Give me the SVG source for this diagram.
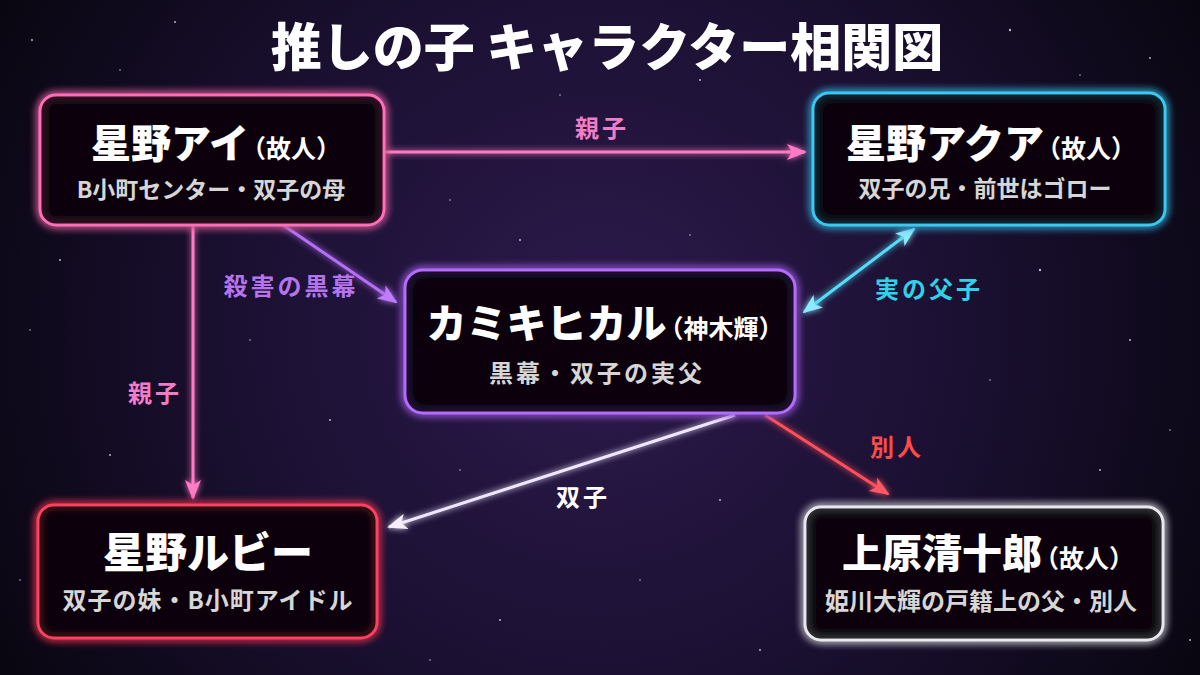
<svg xmlns="http://www.w3.org/2000/svg" width="1200" height="675" viewBox="0 0 1200 675">
<style>
text{font-family:"Noto Sans CJK JP","Noto Sans",sans-serif;font-weight:700;text-anchor:middle}
.title{font-size:51px;font-weight:900;fill:#ffffff}
.name{font-size:40px;font-weight:900;fill:#ffffff}
.paren{font-size:25px;font-weight:700}
.sub{font-size:23px;fill:#d6d6d6}
.box{fill:#08050d;fill-opacity:0.9;stroke-width:3;filter:url(#glow)}
.line{fill:none;stroke-width:3;filter:url(#glowLine)}
.lbl{font-size:24px;letter-spacing:3px}
.star{fill:#ffffff}
</style>
<defs>
<radialGradient id="bg" cx="600" cy="330" r="720" gradientUnits="userSpaceOnUse">
<stop offset="0" stop-color="#2c1a4c"/>
<stop offset="0.5" stop-color="#1b1032"/>
<stop offset="1" stop-color="#07050d"/>
</radialGradient>
<filter id="glow" x="-20%" y="-20%" width="140%" height="140%">
<feGaussianBlur in="SourceGraphic" stdDeviation="4" result="b"/>
<feMerge><feMergeNode in="b"/><feMergeNode in="b"/><feMergeNode in="SourceGraphic"/></feMerge>
</filter>
<filter id="glowLine" filterUnits="userSpaceOnUse" x="0" y="0" width="1200" height="675">
<feGaussianBlur in="SourceGraphic" stdDeviation="3" result="b"/>
<feMerge><feMergeNode in="b"/><feMergeNode in="SourceGraphic"/></feMerge>
</filter>
<marker id="mPink" viewBox="0 0 20 16" refX="18" refY="8" markerWidth="20" markerHeight="16" markerUnits="userSpaceOnUse" orient="auto-start-reverse"><path d="M0,0 L20,8 L0,16 L5,8 z" fill="#ff7ac4"/></marker>
<marker id="mPurple" viewBox="0 0 20 16" refX="18" refY="8" markerWidth="20" markerHeight="16" markerUnits="userSpaceOnUse" orient="auto-start-reverse"><path d="M0,0 L20,8 L0,16 L5,8 z" fill="#c07cff"/></marker>
<marker id="mCyan" viewBox="0 0 20 16" refX="18" refY="8" markerWidth="20" markerHeight="16" markerUnits="userSpaceOnUse" orient="auto-start-reverse"><path d="M0,0 L20,8 L0,16 L5,8 z" fill="#8ee8ff"/></marker>
<marker id="mWhite" viewBox="0 0 20 16" refX="18" refY="8" markerWidth="20" markerHeight="16" markerUnits="userSpaceOnUse" orient="auto-start-reverse"><path d="M0,0 L20,8 L0,16 L5,8 z" fill="#f4eeff"/></marker>
<marker id="mRed" viewBox="0 0 20 16" refX="18" refY="8" markerWidth="20" markerHeight="16" markerUnits="userSpaceOnUse" orient="auto-start-reverse"><path d="M0,0 L20,8 L0,16 L5,8 z" fill="#ff5a64"/></marker>
</defs>
<rect width="1200" height="675" fill="url(#bg)"/>
<g id="stars" opacity="0.7">
<circle class="star" cx="32" cy="40" r="1"/><circle class="star" cx="120" cy="70" r="0.8"/><circle class="star" cx="175" cy="22" r="1"/>
<circle class="star" cx="1010" cy="30" r="1.2"/><circle class="star" cx="1150" cy="58" r="1"/><circle class="star" cx="1080" cy="75" r="0.8"/>
<circle class="star" cx="60" cy="260" r="1"/><circle class="star" cx="30" cy="330" r="0.8"/><circle class="star" cx="110" cy="455" r="1"/>
<circle class="star" cx="250" cy="340" r="0.8"/><circle class="star" cx="330" cy="420" r="1"/><circle class="star" cx="460" cy="470" r="0.8"/>
<circle class="star" cx="520" cy="240" r="1"/><circle class="star" cx="690" cy="235" r="0.8"/><circle class="star" cx="720" cy="500" r="1"/>
<circle class="star" cx="640" cy="580" r="0.8"/><circle class="star" cx="500" cy="620" r="1"/><circle class="star" cx="430" cy="660" r="0.8"/>
<circle class="star" cx="1040" cy="270" r="1.2"/><circle class="star" cx="1130" cy="340" r="1"/><circle class="star" cx="1170" cy="430" r="0.8"/>
<circle class="star" cx="990" cy="380" r="0.8"/><circle class="star" cx="1100" cy="470" r="1"/><circle class="star" cx="760" cy="650" r="1"/>
<circle class="star" cx="20" cy="580" r="0.8"/><circle class="star" cx="1190" cy="640" r="1"/><circle class="star" cx="860" cy="270" r="0.8"/>
<circle class="star" cx="560" cy="95" r="0.8"/><circle class="star" cx="700" cy="80" r="1"/><circle class="star" cx="450" cy="200" r="0.8"/>
</g>
<text class="title" x="607" y="66">推しの子 キャラクター相関図</text>
<g id="connectors">
<path class="line" d="M385,152 L805,152" stroke="#ff7ac4" marker-end="url(#mPink)"/>
<path class="line" d="M193,225 L193,498" stroke="#ff7ac4" marker-end="url(#mPink)"/>
<path class="line" d="M283,225 L396,302" stroke="#b56ef5" marker-end="url(#mPurple)"/>
<path class="line" d="M914,229 L804,312" stroke="#55dcf8" marker-start="url(#mCyan)" marker-end="url(#mCyan)"/>
<path class="line" d="M735,415 L389,527" stroke="#efe6ff" marker-end="url(#mWhite)"/>
<path class="line" d="M765,415 L888,494" stroke="#ff4f5a" marker-end="url(#mRed)"/>
<text class="lbl" x="602" y="137" fill="#f27cc8">親子</text>
<text class="lbl" x="155" y="402" fill="#f27cc8">親子</text>
<text class="lbl" x="291" y="295" fill="#b574ee" letter-spacing="0">殺害の黒幕</text>
<text class="lbl" x="929" y="298" fill="#2ed2ea" letter-spacing="1">実の父子</text>
<text class="lbl" x="583" y="506" fill="#ffffff">双子</text>
<text class="lbl" x="897" y="456" fill="#ff4a4a">別人</text>
</g>
<g id="node-ai">
<rect class="box" x="40" y="95" width="344" height="130" rx="16" stroke="#ff6eb6"/>
<text class="name" x="216" y="158">星野アイ<tspan class="paren" dx="-8">（故人）</tspan></text>
<text class="sub" x="211" y="198">B小町センター・双子の母</text>
</g>
<g id="node-aqua">
<rect class="box" x="813" y="93" width="352" height="132" rx="16" stroke="#3cc8f4"/>
<text class="name" x="991" y="158">星野アクア<tspan class="paren" dx="-8">（故人）</tspan></text>
<text class="sub" x="985" y="197">双子の兄・前世はゴロー</text>
</g>
<g id="node-kamiki">
<rect class="box" x="405" y="270" width="390" height="143" rx="18" stroke="#b46cff"/>
<text class="name" x="605" y="338">カミキヒカル<tspan class="paren" dx="-8">（神木輝）</tspan></text>
<text class="sub" x="597" y="382" style="font-size:24px;letter-spacing:3px">黒幕・双子の実父</text>
</g>
<g id="node-ruby">
<rect class="box" x="38" y="505" width="339" height="133" rx="16" stroke="#ff3f5e"/>
<text class="name" x="208" y="568" style="font-size:42px">星野ルビー</text>
<text class="sub" x="208" y="609" style="font-size:24px;letter-spacing:1px">双子の妹・B小町アイドル</text>
</g>
<g id="node-uehara">
<rect class="box" x="805" y="507" width="358" height="133" rx="16" stroke="#e8e8ee"/>
<text class="name" x="988" y="568">上原清十郎<tspan class="paren" dx="-8">（故人）</tspan></text>
<text class="sub" x="981" y="610" style="font-size:24px">姫川大輝の戸籍上の父・別人</text>
</g>
</svg>
